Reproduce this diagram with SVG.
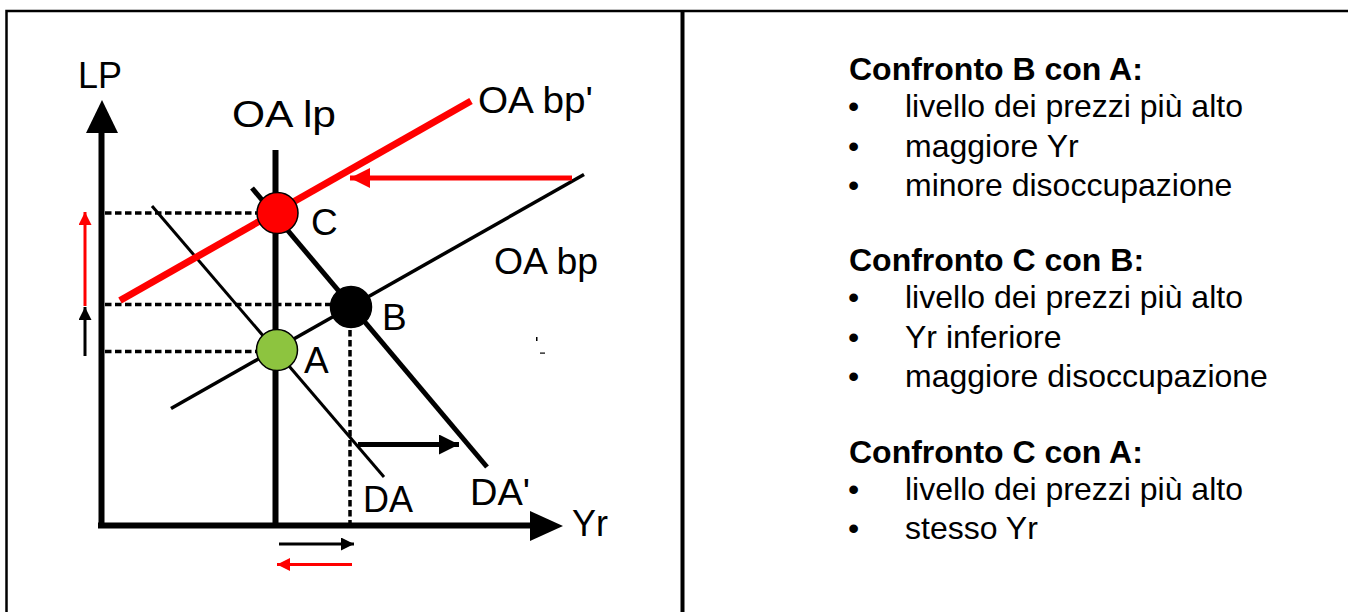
<svg xmlns="http://www.w3.org/2000/svg" width="1348" height="612" viewBox="0 0 1348 612">
<style>
.lbl{font-family:"Liberation Sans",Arial,sans-serif;font-size:37px;fill:#000}
.txt{font-family:"Liberation Sans",Arial,sans-serif;font-size:32px;fill:#000}
.hd{font-weight:bold}
.dot{stroke:#000;stroke-width:3.5;stroke-dasharray:6.5 3.5;fill:none}
.blk{stroke:#000;fill:none}
.red{stroke:#FF0000;fill:none}
</style>
<defs>
<marker id="ahBig" markerUnits="userSpaceOnUse" viewBox="0 0 20 20" refX="20" refY="10" markerWidth="20" markerHeight="20" orient="auto"><path d="M0,0 L20,10 L0,20 Z" fill="#000"/></marker>
<marker id="ahBigR" markerUnits="userSpaceOnUse" viewBox="0 0 20 20" refX="20" refY="10" markerWidth="20" markerHeight="20" orient="auto"><path d="M0,0 L20,10 L0,20 Z" fill="#FF0000"/></marker>
<marker id="ahSm" markerUnits="userSpaceOnUse" viewBox="0 0 13 13" refX="13" refY="6.5" markerWidth="13" markerHeight="13" orient="auto"><path d="M0,0 L13,6.5 L0,13 Z" fill="#000"/></marker>
<marker id="ahSmR" markerUnits="userSpaceOnUse" viewBox="0 0 13 13" refX="13" refY="6.5" markerWidth="13" markerHeight="13" orient="auto"><path d="M0,0 L13,6.5 L0,13 Z" fill="#FF0000"/></marker>
</defs>
<rect width="1348" height="612" fill="#fff"/>
<g id="frame">
<path d="M6.5,612 V11 H1348" stroke="#000" stroke-width="2.5" fill="none"/>
<line x1="682.5" y1="11" x2="682.5" y2="612" stroke="#000" stroke-width="4"/>
<rect x="536" y="337" width="1.5" height="4" fill="#000"/>
<rect x="540" y="352.5" width="5" height="1.2" fill="#000"/>
</g>
<g id="axes">
<line class="blk" x1="101.5" y1="132" x2="101.5" y2="528" stroke-width="6"/>
<path d="M86,133 L118,133 L102,100 Z" fill="#000"/>
<line class="blk" x1="98" y1="525.5" x2="531" y2="525.5" stroke-width="6"/>
<path d="M530,511 L530,541 L563,526 Z" fill="#000"/>
<text class="lbl" x="78" y="88" textLength="44" lengthAdjust="spacingAndGlyphs">LP</text>
<text class="lbl" x="572" y="536" textLength="36" lengthAdjust="spacingAndGlyphs">Yr</text>
</g>
<g id="connectors">
<line class="blk" x1="275.5" y1="150" x2="275.5" y2="525" stroke-width="6"/>
<line class="blk" x1="152" y1="206" x2="384" y2="477" stroke-width="3"/>
<line class="blk" x1="252" y1="188" x2="487" y2="467" stroke-width="5"/>
<line class="blk" x1="171" y1="408.5" x2="584" y2="174.5" stroke-width="3.5"/>
<line class="red" x1="120" y1="300.5" x2="471" y2="101" stroke-width="7"/>
<line class="red" x1="572" y1="178" x2="350" y2="178" stroke-width="5" marker-end="url(#ahBigR)"/>
<line class="blk" x1="358" y1="444.5" x2="459" y2="444.5" stroke-width="5" marker-end="url(#ahBig)"/>
<line class="blk" x1="279" y1="544" x2="354" y2="544" stroke-width="3" marker-end="url(#ahSm)"/>
<line class="red" x1="352" y1="564.5" x2="277" y2="564.5" stroke-width="3" marker-end="url(#ahSmR)"/>
<line class="red" x1="85" y1="306" x2="85" y2="212" stroke-width="3" marker-end="url(#ahSmR)"/>
<line class="blk" x1="85" y1="356" x2="85" y2="307" stroke-width="3" marker-end="url(#ahSm)"/>
<line class="dot" x1="105" y1="213" x2="258" y2="213"/>
<line class="dot" x1="105" y1="304.5" x2="332" y2="304.5"/>
<line class="dot" x1="105" y1="351.5" x2="258" y2="351.5"/>
<line class="dot" x1="350" y1="330" x2="350" y2="523" stroke-dasharray="5 4"/>
</g>
<g id="curve-labels">
<text class="lbl" x="232" y="127" textLength="104" lengthAdjust="spacingAndGlyphs">OA lp</text>
<text class="lbl" x="478" y="113" textLength="115" lengthAdjust="spacingAndGlyphs">OA bp'</text>
<text class="lbl" x="494" y="274" textLength="104" lengthAdjust="spacingAndGlyphs">OA bp</text>
<text class="lbl" x="363" y="512" textLength="50" lengthAdjust="spacingAndGlyphs">DA</text>
<text class="lbl" x="470" y="505" textLength="60" lengthAdjust="spacingAndGlyphs">DA'</text>
</g>
<g id="point-A">
<circle cx="277" cy="350" r="20.5" fill="#8DC43F" stroke="#000" stroke-width="1.5"/>
<text class="lbl" x="304" y="373">A</text>
</g>
<g id="point-B">
<circle cx="351" cy="307" r="20.5" fill="#000" stroke="#000" stroke-width="1.5"/>
<text class="lbl" x="382" y="330">B</text>
</g>
<g id="point-C">
<circle cx="277.5" cy="213" r="20.5" fill="#FF0000" stroke="#000" stroke-width="1.5"/>
<text class="lbl" x="311" y="235">C</text>
</g>
<g id="notes">
<text class="txt hd" x="849" y="80">Confronto B con A:</text>
<text class="txt" x="848" y="117">•</text><text class="txt" x="905" y="117">livello dei prezzi più alto</text>
<text class="txt" x="848" y="157">•</text><text class="txt" x="905" y="157">maggiore Yr</text>
<text class="txt" x="848" y="196">•</text><text class="txt" x="905" y="196">minore disoccupazione</text>
<text class="txt hd" x="849" y="271">Confronto C con B:</text>
<text class="txt" x="848" y="308">•</text><text class="txt" x="905" y="308">livello dei prezzi più alto</text>
<text class="txt" x="848" y="348">•</text><text class="txt" x="905" y="348">Yr inferiore</text>
<text class="txt" x="848" y="387">•</text><text class="txt" x="905" y="387">maggiore disoccupazione</text>
<text class="txt hd" x="849" y="463">Confronto C con A:</text>
<text class="txt" x="848" y="500">•</text><text class="txt" x="905" y="500">livello dei prezzi più alto</text>
<text class="txt" x="848" y="539">•</text><text class="txt" x="905" y="539">stesso Yr</text>
</g>
</svg>
